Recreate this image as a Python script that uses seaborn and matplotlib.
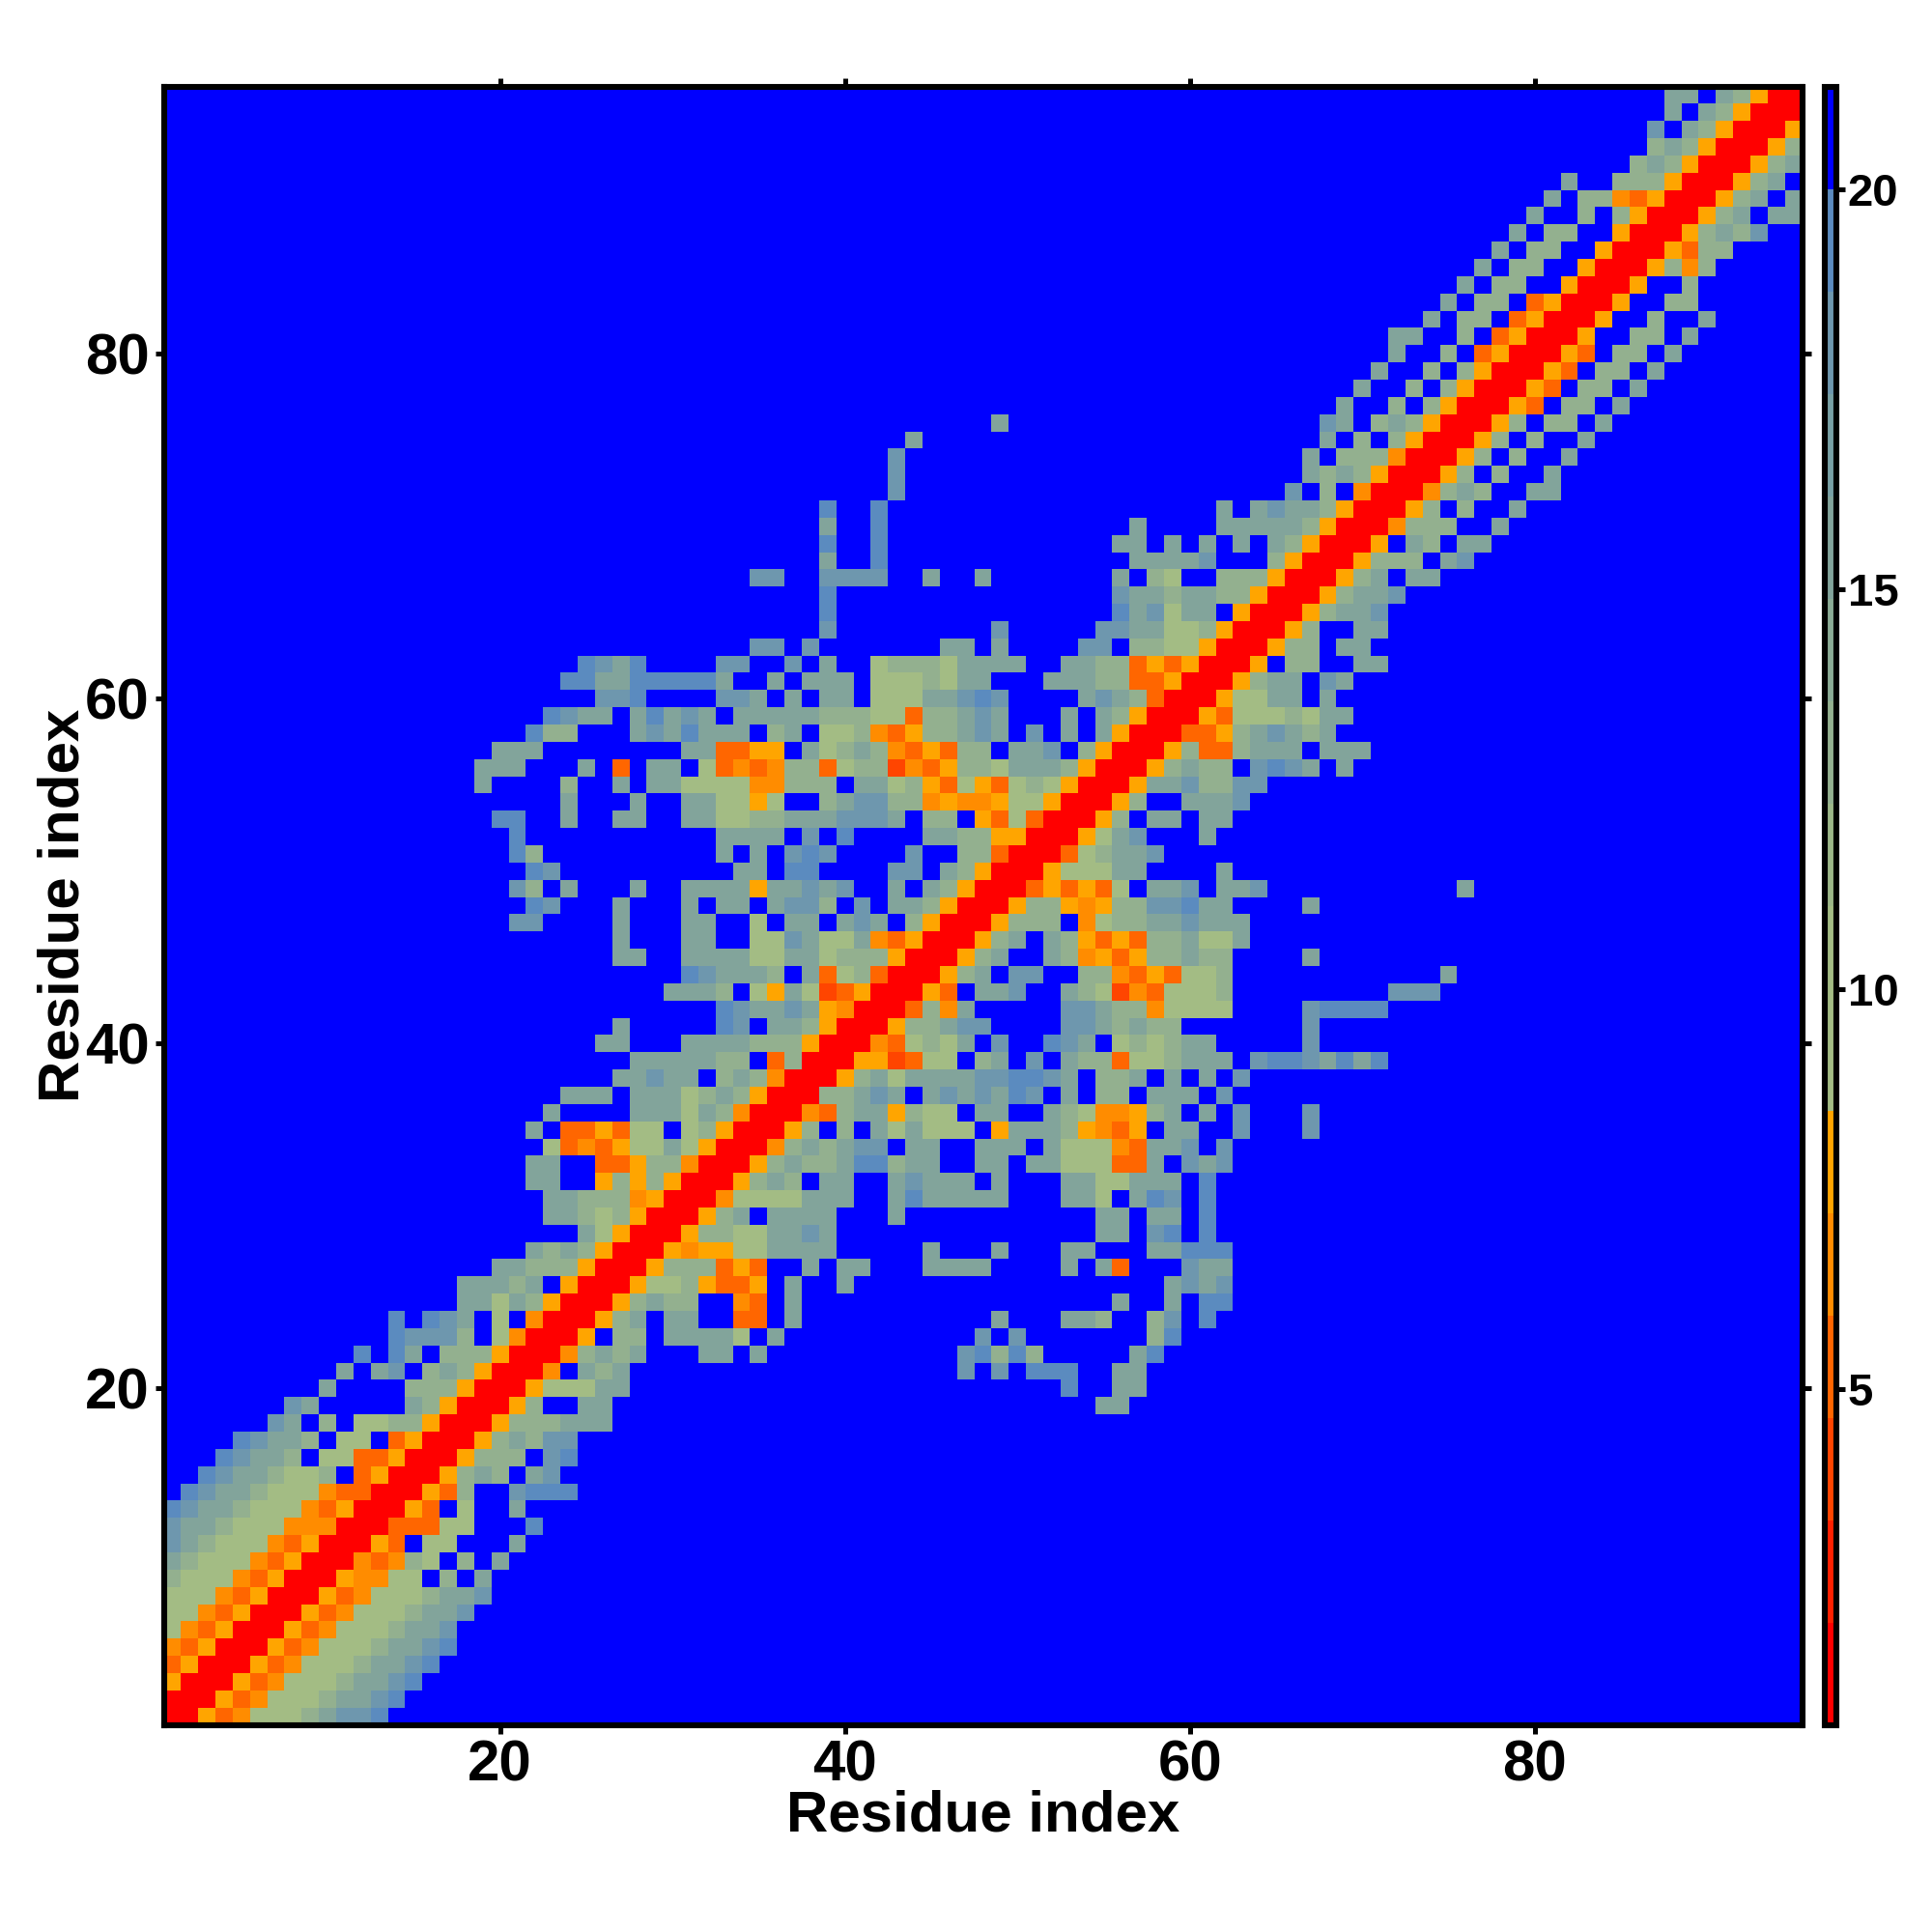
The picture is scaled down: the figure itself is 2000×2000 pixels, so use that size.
import numpy as np, pandas as pd
import matplotlib
matplotlib.use("Agg")
import matplotlib.pyplot as plt
from matplotlib.colors import ListedColormap
import seaborn as sns

n_res = 95

# distance read for each colour code (blue = beyond the cut-off)
code_values = {"X": 1.4, "S": 4.0, "R": 5.3, "O": 6.5, "A": 7.8,
               "e": 10.4, "d": 12.9, "c": 15.5, "b": 18.0, "a": 19.4}
far_value = 20.6

# colour bins of the scale, low to high
bin_colors = ["#FF0000", "#FF2000", "#FF4500", "#FF6600", "#FF8C00", "#FFA500",
              "#A3BC84", "#A3BC84", "#9CB788", "#93B08F", "#8AAB95", "#82A49B",
              "#78A0A5", "#6E97AE", "#5B8BBF", "#0000FF"]
scale_min, scale_max = 0.8, 21.28

axis_ticks = [20, 40, 60, 80]
scale_ticks = [5, 10, 15, 20]
axis_label = "Residue index"

# (row, first column, codes) for the half above the diagonal, "." = blue
rows_low = [
    (1, 1, "XXAROeeedcbba"), (2, 2, "XXAROeeedccba"), (3, 3, "XXAROeeedccba"),
    (4, 4, "XXAROeeedccba"), (5, 5, "XXAROeeedccba"), (6, 6, "XXAROeeedccb"),
    (7, 7, "XXAROeeedccb"), (8, 8, "XXAROeeedccb"), (9, 9, "XXAOOee.d.c"),
    (10, 10, "XXOROde.d.c"), (11, 11, "XXAR.ee...c"), (12, 12, "XXRRRee...a"),
    (13, 13, "XXAR.e..c"), (14, 14, "XXARd..baaa"), (15, 15, "XXAdcd.cb"),
    (16, 16, "XXAddd.ba"), (17, 17, "XXAdcdbb"), (18, 18, "XXAdddccc"),
    (19, 19, "XXAd..cc"), (19, 55, "cc"),
    (20, 20, "XXAeeecc"), (20, 53, "a"), (20, 56, "cc"),
    (21, 21, "XXO.cdc"), (21, 47, "b.b.aaa"), (21, 56, "cc"),
    (22, 22, "XXOdcdc...cc.c"), (22, 47, "badad"), (22, 57, "ca"),
    (23, 23, "XXA.dd.cccce.c"), (23, 48, "b.b"), (23, 58, "da"),
    (24, 24, "XXAdc.cc..RR.c"), (24, 49, "c"), (24, 53, "ccd"), (24, 58, "db"), (24, 61, "a"),
    (25, 25, "XXAdcdd..OR.c"), (25, 56, "c"), (25, 59, "c"), (25, 61, "aa"),
    (26, 26, "XXAeedARRA.c..c"), (26, 59, "cbcb"),
    (27, 27, "XXAdddRAR..c.cc"), (27, 45, "cccc"), (27, 53, "c.cR"), (27, 60, "bcc"),
    (28, 28, "XXAOAAeecccc"), (28, 45, "c"), (28, 49, "c"), (28, 53, "cc"), (28, 58, "ccaaa"),
    (29, 29, "XXAddeeccbc"), (29, 55, "cc"), (29, 58, "ba"), (29, 61, "a"),
    (30, 30, "XXAdc.cccc...c"), (30, 55, "cc"), (30, 58, "cc"), (30, 61, "a"),
]
rows_mid = [
    (31, 31, "XXOeeeeccc..c"), (31, 44, "accccc...cce.cab.a"),
    (32, 32, "XXAdcd.cc..c"), (32, 44, "bccc.c...cceeccc.a"),
    (33, 33, "XXAdcddcaad"), (33, 44, "cc..cc.cceeeRRc.bcb"),
    (34, 34, "XXOdcdcbb."), (34, 44, "cc..ccc.ceeeORccb.b"),
    (35, 35, "XXAd.d.ce"), (35, 44, "ceee.AcccdAORA.cc..b...b"),
    (36, 36, "XXORdccA"), (36, 44, "dee.cc..cdeOOAdc.c.b...b"),
    (37, 37, "XXddcbc"), (37, 44, ".cbcbcab.c.dd.ccc.b"),
    (38, 38, "XXAdce"), (38, 44, "ccccbbaabc.ddc.c.c.b"),
    (39, 39, "XXAAS"), (39, 44, "Ree.dc.b.cddReedccc.baabcaca"),
    (40, 40, "XXOR"), (40, 44, "edec.b..abc.ededcc.....b"),
    (41, 41, "XXA"), (41, 44, "ddcbb....bbcdcdd.......b"),
    (42, 42, "XX"), (42, 44, "RdOc.....bbcddOeeee....baaaa"),
    (43, 43, "XXAR.ccb..cdeSOReeed"), (43, 72, "bbb"),
    (44, 44, "XXAdc.bb..ddORAReed"), (44, 75, "c"),
    (45, 45, "XXAdc..cdOARAddcdd....c"),
    (46, 46, "XXAdc.cdARARddceec"),
    (47, 47, "XXAddd.Oeddccbccc"),
    (48, 48, "XXAddAOAddbbacc....c"),
    (49, 49, "XXRARARe.ccb.ccb"), (49, 76, "c"),
    (50, 50, "XXAeeecc....c"),
    (51, 51, "XXRedccb"), (52, 52, "XXAecb...c"), (53, 53, "XXAd.cc.cc"),
    (54, 54, "XXAd..cccb"), (55, 55, "XXAccbddbb"), (56, 56, "XXAdcdd.babc.c"),
    (57, 57, "XXAdRRdccc.ccc"), (58, 58, "XXRRAdcbcdc"), (59, 59, "XXAReeedecc"),
    (60, 60, "XXAeecc.c"),
]
rows_high = [
    (61, 61, "XXAdcc.bc"), (62, 62, "XXA.dd..cc"), (63, 63, "XXAdd.cc"),
    (64, 64, "XXAd..cc"), (65, 65, "XXAdccb"), (66, 66, "XXAdccb"),
    (67, 67, "XXAdc.cc"), (68, 68, "XXAddd.cb"), (69, 69, "XXA.cd.cc"),
    (70, 70, "XXOddd..c"), (71, 71, "XXAd.d..c"), (72, 72, "XXOdcd..cc"),
    (73, 73, "XXAd.d..c"), (74, 74, "XXAd.d..c"), (75, 75, "XXAd.d..c"),
    (76, 76, "XXAd.dd.c"), (77, 77, "XXAR.dd.c"), (78, 78, "XXAR.dd.c"),
    (79, 79, "XXAR.dd.c"), (80, 80, "XXAR.dd.c"), (81, 81, "XXA..dd.c"),
    (82, 82, "XXA..d..c"), (83, 83, "XXA..dd"), (84, 84, "XXA..d"),
    (85, 85, "XXAdOd"), (86, 86, "XXARdd"), (87, 87, "XXAdcdb"),
    (88, 88, "XXAdc.cc"), (89, 89, "XXAdc.c"), (90, 90, "XXAdc."),
    (91, 91, "XXAdc"), (92, 92, "XXAd"), (93, 93, "XXA"), (94, 94, "XX"), (95, 95, "X"),
]

# symmetric matrix
dist = np.full((n_res, n_res), far_value)
for row, col, codes in rows_low + rows_mid + rows_high:
    for k, code in enumerate(codes):
        if code != ".":
            dist[row - 1, col - 1 + k] = code_values[code]
            dist[col - 1 + k, row - 1] = code_values[code]
dist_df = pd.DataFrame(dist, index=range(1, n_res + 1), columns=range(1, n_res + 1))

sns.set_style("white")
plt.rcParams["font.family"] = ["Liberation Sans", "DejaVu Sans"]
plt.rcParams["font.weight"] = "bold"
plt.rcParams["text.color"] = "black"
plt.rcParams["axes.labelcolor"] = "black"
plt.rcParams["xtick.color"] = "black"
plt.rcParams["ytick.color"] = "black"

fig = plt.figure(figsize=(10, 10), dpi=200)
W, H = 2000.0, 2000.0
ax = fig.add_axes([169.5 / W, 1 - 1785.5 / H, 1696 / W, 1696 / H])
cax = fig.add_axes([1889 / W, 1 - 1785.5 / H, 11.5 / W, 1696 / H])

sns.heatmap(dist_df, ax=ax, cbar_ax=cax, cmap=ListedColormap(bin_colors),
            vmin=scale_min, vmax=scale_max, xticklabels=False, yticklabels=False,
            cbar_kws={"ticks": scale_ticks})
ax.invert_yaxis()

for s in ax.spines.values():
    s.set_visible(True)
    s.set_linewidth(2.2)
    s.set_color("black")

ax.set_xticks([t - 0.5 for t in axis_ticks])
ax.set_yticks([t - 0.5 for t in axis_ticks])
ax.set_xticklabels(axis_ticks, fontsize=21.6, fontweight="bold")
ax.set_yticklabels(axis_ticks, fontsize=21.6, fontweight="bold", rotation=0)
ax.tick_params(axis="both", which="major", top=True, right=True, bottom=True, left=True,
               length=3.2, width=1.8, color="black", pad=2.2)
ax.set_xlabel(axis_label, fontsize=21.6, fontweight="bold", labelpad=-1)
ax.set_ylabel(axis_label, fontsize=21.6, fontweight="bold", labelpad=-2)

cb = ax.collections[0].colorbar
cb.outline.set_visible(True)
cb.outline.set_linewidth(2.2)
cb.outline.set_edgecolor("black")
cb.ax.tick_params(length=3.2, width=1.8, color="black", pad=1.2, labelsize=17)
for lab in cb.ax.get_yticklabels():
    lab.set_fontweight("bold")
    lab.set_verticalalignment("center_baseline")

fig.savefig("out.png", dpi=200, facecolor="white")
